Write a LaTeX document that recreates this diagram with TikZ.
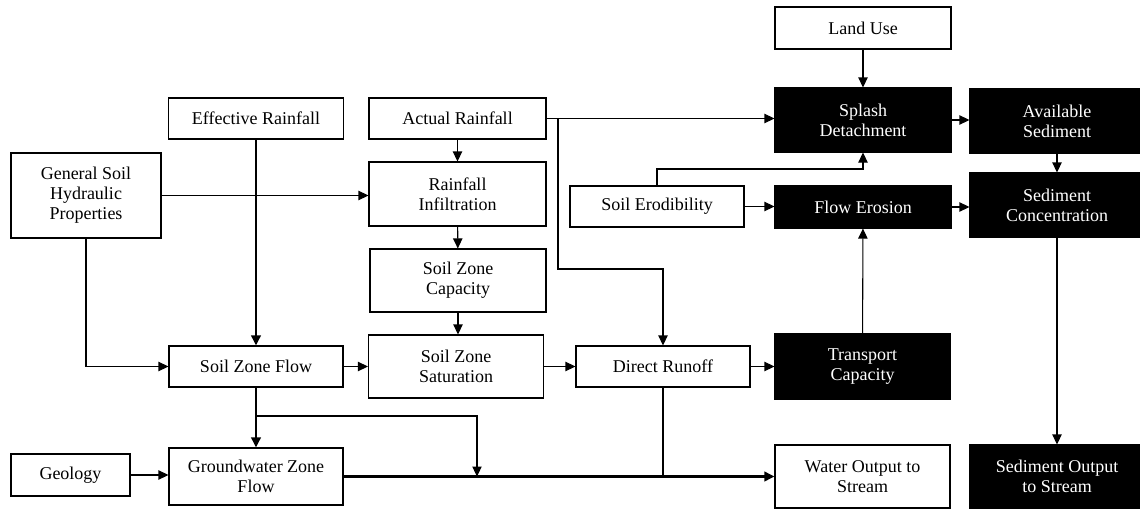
\documentclass[tikz,border=0pt]{standalone}
\usepackage{fontspec}
\setmainfont{Liberation Serif}
\usetikzlibrary{arrows.meta}

\begin{document}
\begin{tikzpicture}[x=0.75pt,y=0.75pt,yscale=-1,
	box/.style={draw,line width=0.8pt,fill=white,inner sep=0pt,align=center,font=\fontsize{13.5}{15}\selectfont},
	dbox/.style={box,fill=black,text=white},
	arr/.style={line width=0.8pt,-{Triangle[length=7.5pt,width=7pt]}},
	thk/.style={line width=2.2pt}]
	\useasboundingbox (0,0) rectangle (1140,514);
	% boxes
	\node[box,minimum width=132pt,minimum height=31.5pt] (landuse) at (863,28) {Land Use};
	\node[dbox,minimum width=132pt,minimum height=48pt] (splash) at (863,120) {Splash\\Detachment};
	\node[dbox,minimum width=130.5pt,minimum height=48pt] (avail) at (1057,121) {Available\\Sediment};
	\node[box,minimum width=131.25pt,minimum height=30.75pt] (effrain) at (256,118.5) {Effective Rainfall};
	\node[box,minimum width=132.75pt,minimum height=30.75pt] (actrain) at (457.5,118.5) {Actual Rainfall};
	\node[box,minimum width=112.5pt,minimum height=63.75pt] (gshp) at (86,195.5) {General Soil\\Hydraulic\\Properties};
	\node[box,minimum width=132.75pt,minimum height=48pt] (infil) at (457.5,194) {Rainfall\\Infiltration};
	\node[box,minimum width=130.5pt,minimum height=30.75pt] (erod) at (657,206.5) {Soil Erodibility};
	\node[dbox,minimum width=132pt,minimum height=31.5pt] (flowero) at (863,207) {Flow Erosion};
	\node[dbox,minimum width=130.5pt,minimum height=48pt] (sedconc) at (1057,205) {Sediment\\Concentration};
	\node[box,minimum width=132pt,minimum height=47.25pt] (capacity) at (458,280.5) {Soil Zone\\Capacity};
	\node[box,minimum width=130.5pt,minimum height=30.75pt] (szflow) at (256,366.5) {Soil Zone Flow};
	\node[box,minimum width=131.25pt,minimum height=47.25pt] (saturation) at (456,366.5) {Soil Zone\\Saturation};
	\node[box,minimum width=130.5pt,minimum height=30.75pt] (runoff) at (663,366.5) {Direct Runoff};
	\node[dbox,minimum width=131.25pt,minimum height=48.75pt] (transport) at (862.5,366.5) {Transport\\Capacity};
	\node[box,minimum width=89.25pt,minimum height=31.5pt] (geology) at (70.5,475) {Geology};
	\node[box,minimum width=130.5pt,minimum height=42.75pt] (gwflow) at (256,476.5) {Groundwater Zone\\Flow};
	\node[box,minimum width=131.25pt,minimum height=47.25pt] (waterout) at (862.5,476.5) {Water Output to\\Stream};
	\node[dbox,minimum width=130.5pt,minimum height=47.25pt] (sedout) at (1057,476.5) {Sediment Output\\to Stream};
	% junctions
	\coordinate (arsplit) at (558,118.5);
	\coordinate (arbend) at (663,269);
	\coordinate (szsplit) at (256,416);
	\coordinate (gwjoin) at (477,476.5);
	\coordinate (erbend) at (657,169);
	% sediment side
	\draw[arr] (landuse) -- (splash);
	\draw[arr] (actrain.east) -- (actrain.east -| splash.west);
	\draw[arr] (splash.east) -- (splash.east -| avail.west);
	\draw[arr] (avail) -- (sedconc);
	\draw[arr] (erod.north) -- (erbend) -| (splash.south);
	\draw[arr] (erod.east) -- (erod.east -| flowero.west);
	\draw[arr] (flowero.east) -- (flowero.east -| sedconc.west);
	\draw[arr] (transport) -- (flowero);
	\draw[arr] (sedconc) -- (sedout);
	% water side
	\draw[arr,thk] (effrain) -- (szflow);
	\draw[arr] (gshp.east) -- (gshp.east -| infil.west);
	\draw[arr] (gshp.south) |- (szflow.west);
	\draw[arr] (actrain) -- (infil);
	\draw[arr] (infil) -- (capacity);
	\draw[arr] (capacity.south) -- (capacity.south |- saturation.north);
	\draw[arr] (arsplit) |- (arbend) -- (runoff.north);
	\draw[arr] (szflow) -- (saturation);
	\draw[arr] (saturation) -- (runoff);
	\draw[arr] (runoff) -- (transport);
	\draw[arr,thk] (szflow) -- (gwflow);
	\draw[arr] (szsplit) -| (gwjoin);
	\draw[arr] (geology.east) -- (geology.east -| gwflow.west);
	\draw[arr,thk] (gwflow) -- (waterout);
	\draw[line width=0.8pt] (runoff.south) -- (runoff.south |- gwjoin);
\end{tikzpicture}
\end{document}
